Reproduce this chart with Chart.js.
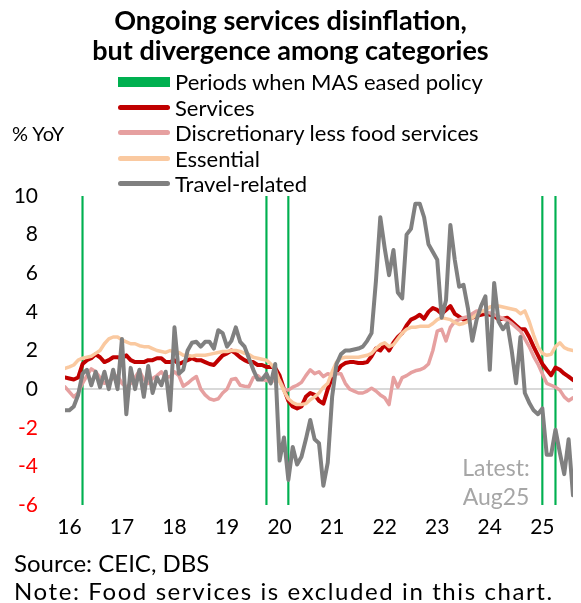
<!DOCTYPE html>
<html>
<head>
<meta charset="utf-8">
<script src="https://cdn.jsdelivr.net/npm/chart.js@4.4.1/dist/chart.umd.min.js"></script>
<style>
  body { margin: 0; background: #fff; }
  #wrap { position: relative; width: 581px; height: 603px; font-family: Lato, sans-serif; color: #000; overflow: hidden; }
  #c { position: absolute; left: 0; top: 0; }
  .title { position: absolute; left: 0; top: 5px; width: 581px; text-align: center; font-weight: bold; font-size: 27px; line-height: 30px; }
  .legend { position: absolute; left: 118px; top: 69px; font-size: 22px; line-height: 25.5px; }
  .legend div { position: relative; padding-left: 57px; white-space: nowrap; }
  .legend span { position: absolute; left: 0; width: 52px; border-radius: 3px; }
  .unit { position: absolute; left: 12px; top: 121px; font-size: 20px; line-height: 24px; }
  .latest { position: absolute; left: 446px; top: 453px; width: 100px; text-align: center; font-size: 23px; line-height: 29px; color: #A6A6A6; }
  .foot { position: absolute; left: 14px; top: 549px; font-size: 24px; line-height: 28px; white-space: nowrap; }
</style>
</head>
<body>
<div id="wrap">
  <canvas id="c" width="581" height="603"></canvas>
  <div class="title">Ongoing services disinflation,<br>but divergence among categories</div>
  <div class="legend">
    <div><span style="top:8px;height:10px;background:#00B050;border-radius:0"></span>Periods when MAS eased policy</div>
    <div><span style="top:10px;height:5px;background:#C00000"></span>Services</div>
    <div><span style="top:10px;height:5px;background:#E6A0A0"></span>Discretionary less food services</div>
    <div><span style="top:10px;height:5px;background:#FAC9A0"></span>Essential</div>
    <div><span style="top:10px;height:5px;background:#808080"></span>Travel-related</div>
  </div>
  <div class="unit">% YoY</div>
  <div class="latest">Latest:<br>Aug25</div>
  <div class="foot">Source: CEIC, DBS<br><span style="letter-spacing:1.6px">Note: Food services is excluded in this chart.</span></div>
</div>
<script>
// monthly, Dec 2015 .. Aug 2025 (117 points), index 0 = Dec 2015
const yearLabels = ['16', '17', '18', '19', '20', '21', '22', '23', '24', '25'];
// months (index) when MAS eased: Apr16, Oct19, Mar20, Jan25, Apr25
const easedMonths = [4, 46, 51, 109, 112];

const services = [
  0.6, 0.55, 0.5, 0.6, 1.3, 1.5, 1.6, 1.8, 1.65, 1.4, 1.5, 1.65, 1.65, 1.6, 1.75, 1.5, 1.4, 1.4, 1.4, 1.5,
  1.5, 1.6, 1.6, 1.4, 1.4, 1.5, 1.3, 1.4, 1.5, 1.6, 1.5, 1.5, 1.4, 1.3, 1.25, 1.5, 1.75, 1.85, 2.0, 1.85,
  1.65, 1.5, 1.4, 1.4, 1.25, 1.25, 1.15, 1.15, 1.1, 0.7, 0.0, -0.6, -0.9, -1.0, -0.9, -0.4, -0.2, -0.3, -0.6, -0.75,
  0.0, 0.6, 0.9, 1.2, 1.35, 1.4, 1.4, 1.35, 1.35, 1.4, 1.7, 2.1, 2.0, 2.3, 2.0, 2.4, 2.7, 2.9, 3.3, 3.6,
  3.7, 3.85, 3.65, 4.0, 4.2, 4.1, 3.9, 4.1, 4.3, 3.9, 3.75, 3.6, 3.6, 3.7, 3.8, 3.85, 3.9, 3.85, 3.8, 3.6,
  3.65, 3.7, 3.5, 3.3, 3.1, 3.1, 2.7, 2.2, 1.75, 1.3, 1.0, 0.72, 1.12, 1.0, 0.8, 0.65, 0.47
];
const discretionary = [
  0.12, -0.14, -0.4, -0.2, 0.3, 0.7, 1.05, 0.9, 0.6, 0.3, 0.4, 0.55, 0.7, 0.3, 0.1, 0.3, 0.6, 0.95, 0.5, 0.3,
  0.55, 0.7, 0.9, 0.6, 0.65, 0.9, 0.7, 0.15, 0.3, 0.5, 0.65, 0.0, -0.3, -0.5, -0.57, -0.5, -0.2, 0.0, 0.5, 0.55,
  0.2, 0.15, 0.12, 0.6, 0.7, 0.5, 0.45, 0.4, 0.45, 0.45, 0.0, -0.05, 0.1, 0.2, 0.35, 0.7, 1.0, 0.8, 0.9, 0.65,
  0.8, 0.7, 0.8, 0.8, 0.3, 0.0, -0.1, -0.2, -0.2, -0.1, 0.05, -0.1, -0.3, -0.45, -0.8, 0.6, 0.1, 0.6, 0.7, 0.85,
  0.95, 1.0, 1.1, 1.3, 2.0, 3.0, 3.1, 2.5, 3.2, 3.5, 3.6, 3.7, 3.75, 3.9, 4.05, 4.05, 4.0, 3.95, 3.85, 3.75,
  3.65, 3.55, 3.4, 3.2, 3.0, 2.6, 2.2, 1.7, 1.3, 0.8, 0.3, 0.2, 0.1, -0.05, -0.4, -0.6, -0.45
];
const essential = [
  1.07, 1.15, 1.25, 1.5, 1.6, 1.65, 1.7, 1.85, 2.0, 2.35, 2.6, 2.7, 2.7, 2.55, 2.45, 2.35, 2.35, 2.25, 2.2, 2.2,
  2.1, 2.0, 1.95, 1.9, 2.0, 1.9, 1.9, 1.75, 1.75, 1.7, 1.75, 1.75, 1.75, 1.8, 1.85, 1.9, 1.95, 1.95, 2.0, 2.0,
  1.95, 1.85, 1.8, 1.65, 1.6, 1.55, 1.5, 1.3, 1.0, 0.4, -0.1, -0.5, -0.7, -0.8, -0.8, -0.75, -0.55, -0.4, -0.2, 0.1,
  0.3, 0.9, 1.4, 1.6, 1.65, 1.65, 1.65, 1.65, 1.7, 1.75, 1.85, 2.1, 2.3, 2.4, 2.2, 2.3, 2.6, 2.9, 3.1, 3.2,
  3.2, 3.25, 3.25, 3.25, 3.4, 3.6, 3.7, 3.65, 3.6, 3.45, 3.35, 3.4, 3.5, 3.7, 3.85, 4.0, 4.1, 4.25, 4.3, 4.3,
  4.25, 4.2, 4.15, 4.1, 3.9, 4.05, 3.5, 2.8, 2.2, 1.85, 1.75, 1.8, 2.2, 2.4, 2.15, 2.05, 2.0
];
const travel = [
  -1.1, -1.1, -0.9, -0.3, 0.8, 1.0, 0.2, 0.9, 0.1, 0.9, 0.0, 1.0, 0.0, 2.6, -1.3, 1.1, 0.0, 1.0, -0.4, 1.2,
  -0.2, 0.6, 0.2, 0.9, -1.1, 3.2, 0.8, 1.0, 2.0, 2.4, 2.45, 2.2, 2.45, 2.45, 2.1, 3.05, 2.9, 2.2, 2.5, 3.2,
  2.45, 2.2, 1.6, 1.0, 0.5, 0.5, 0.8, 0.3, 1.3, -3.7, -2.5, -4.7, -3.0, -3.9, -3.5, -2.6, -1.6, -2.6, -2.8, -5.0,
  -3.8, -0.4, 1.3, 1.8, 2.0, 2.0, 2.05, 2.1, 2.2, 2.5, 2.9, 5.6, 8.9, 7.3, 5.9, 7.2, 5.0, 4.7, 8.0, 8.3,
  9.6, 9.6, 8.9, 7.5, 7.1, 6.7, 3.7, 4.6, 8.5, 6.7, 5.3, 5.4, 4.2, 2.5, 3.6, 4.3, 4.8, 1.0, 5.5, 3.5,
  3.1, 3.4, 2.0, 0.3, 2.7, -0.2, -0.7, -1.1, -1.3, -1.0, -3.4, -3.4, -2.1, -3.3, -4.4, -2.6, -5.5
];

const toPoints = arr => arr.map((v, i) => ({ x: i, y: v }));

function lineSet(label, data, color, width, order) {
  return {
    label: label,
    data: toPoints(data),
    borderColor: color,
    backgroundColor: color,
    borderWidth: width,
    pointRadius: 0,
    tension: 0,
    fill: false,
    borderJoinStyle: 'round',
    borderCapStyle: 'round',
    order: order
  };
}

new Chart(document.getElementById('c'), {
  type: 'line',
  data: {
    datasets: [
      {
        type: 'bar',
        label: 'Periods when MAS eased policy',
        data: easedMonths.map(n => ({ x: n, y: [-6, 10] })),
        backgroundColor: '#00B050',
        barThickness: 1.5,
        grouped: false,
        order: 9
      },
      lineSet('Services', services, '#C00000', 4, 4),
      lineSet('Discretionary less food services', discretionary, '#E6A0A0', 3.5, 3),
      lineSet('Essential', essential, '#FAC9A0', 3.5, 2),
      lineSet('Travel-related', travel, '#808080', 4, 1)
    ]
  },
  options: {
    responsive: false,
    animation: false,
    devicePixelRatio: 1,
    layout: { padding: { top: 196, bottom: 58, left: 0, right: 8 } },
    plugins: { legend: { display: false }, tooltip: { enabled: false } },
    scales: {
      x: {
        type: 'linear',
        min: 0,
        max: 116,
        offset: false,
        afterBuildTicks: axis => {
          axis.ticks = yearLabels.map((_, i) => ({ value: 1 + 12 * i }));
        },
        afterFit: axis => { axis.height = 40; },
        grid: { display: false, drawTicks: false },
        border: { display: false },
        ticks: {
          autoSkip: false,
          maxRotation: 0,
          padding: 10,
          color: '#000',
          font: { family: 'Lato', size: 21 },
          callback: (value, i) => yearLabels[i]
        }
      },
      y: {
        min: -6,
        max: 10,
        afterFit: axis => { axis.width = 65; },
        border: { display: false },
        grid: {
          drawTicks: false,
          lineWidth: 2,
          color: ctx => (ctx.tick && ctx.tick.value === 0 ? '#D9D9D9' : 'rgba(0,0,0,0)')
        },
        ticks: {
          stepSize: 2,
          padding: 27,
          font: { family: 'Lato', size: 21 },
          color: ctx => (ctx.tick.value < 0 ? '#FF0000' : '#000')
        }
      }
    }
  }
});
</script>
</body>
</html>
